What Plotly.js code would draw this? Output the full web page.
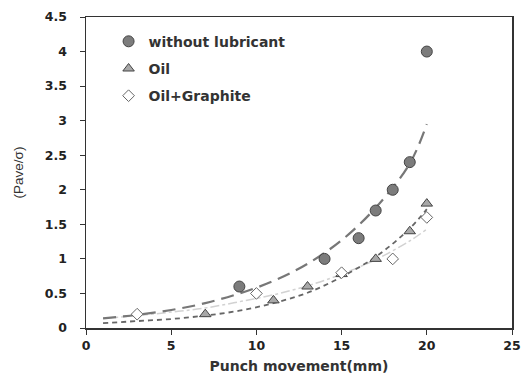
<!DOCTYPE html>
<html><head><meta charset="utf-8">
<script src="https://cdn.plot.ly/plotly-3.0.1.min.js"></script>
<style>html,body{margin:0;padding:0;background:#fff}#c{width:522px;height:379px}</style>
</head><body><div id="c"></div>
<script>
// Measured points
const xDry = [9, 14, 16, 17, 18, 19, 20];
const yDry = [0.6, 1.0, 1.3, 1.7, 2.0, 2.4, 4.0];
const xOil = [7, 11, 13, 15, 17, 19, 20];
const yOil = [0.2, 0.4, 0.6, 0.78, 1.0, 1.4, 1.8];
const xGra = [3, 10, 15, 18, 20];
const yGra = [0.2, 0.5, 0.8, 1.0, 1.6];
// Trend lines
const xTrend = [1, 3, 5, 7, 9, 11, 13, 15, 17, 19, 20];
const yTrendDry = [0.14, 0.19, 0.26, 0.36, 0.50, 0.68, 0.93, 1.27, 1.74, 2.38, 2.95];
const yTrendOil = [0.07, 0.10, 0.13, 0.18, 0.25, 0.36, 0.51, 0.74, 1.03, 1.44, 1.72];
const yTrendGra = [0.14, 0.18, 0.23, 0.29, 0.38, 0.48, 0.61, 0.78, 0.99, 1.26, 1.43];
const names = ['without lubricant', 'Oil', 'Oil+Graphite'];
const xTicks = [0, 5, 10, 15, 20, 25];
const yTicks = [0, 0.5, 1, 1.5, 2, 2.5, 3, 3.5, 4, 4.5];
const yTickText = ['0', '0.5', '1', '1.5', '2', '2.5', '3', '3.5', '4', '4.5'];

const FB = 'DejaVu Sans, Verdana, sans-serif';
const FN = 'Liberation Sans, Arial, sans-serif';
const traces = [
  {x: xTrend, y: yTrendGra, mode: 'lines', line: {color: '#d2d2d2', width: 1.5, dash: 'dashdot', shape: 'spline'}, showlegend: false, hoverinfo: 'skip'},
  {x: xTrend, y: yTrendDry, mode: 'lines', line: {color: '#777', width: 2.2, dash: '13px,7px', shape: 'spline'}, showlegend: false, hoverinfo: 'skip'},
  {x: xTrend, y: yTrendOil, mode: 'lines', line: {color: '#666', width: 1.8, dash: '5px,4px', shape: 'spline'}, showlegend: false, hoverinfo: 'skip'},
  {x: xDry, y: yDry, name: names[0], mode: 'markers', legendgroup: 'a',
   marker: {symbol: 'circle', size: 11, color: '#7c7c7c', line: {color: '#444', width: 1}}},
  {x: xOil, y: yOil, name: names[1], mode: 'markers', legendgroup: 'b',
   marker: {symbol: 'triangle-up', size: 10, color: '#a8a8a8', line: {color: '#444', width: 1}}},
  {x: xGra, y: yGra, name: names[2], mode: 'markers', legendgroup: 'c',
   marker: {symbol: 'diamond', size: 9, color: '#ffffff', line: {color: '#666', width: 1}}}
];
const layout = {
  width: 522, height: 379,
  margin: {l: 86, r: 10, t: 17, b: 51},
  paper_bgcolor: '#fff', plot_bgcolor: '#fff',
  font: {family: FB, color: '#222'},
  showlegend: true,
  legend: {x: 0.053, y: 0.972, xanchor: 'left', yanchor: 'top', bgcolor: 'rgba(0,0,0,0)',
    font: {family: FB, size: 14, color: '#333', weight: 'bold'}, traceorder: 'grouped', tracegroupgap: 6, itemwidth: 30},
  xaxis: {range: [0, 25], tickvals: xTicks, ticks: 'outside', ticklen: 5, tickcolor: '#333',
    showgrid: false, zeroline: false, showline: true, mirror: true, linecolor: '#333', linewidth: 1.5,
    tickfont: {family: FB, size: 12.5, color: '#222', weight: 'bold'},
    title: {text: 'Punch movement(mm)', font: {family: FB, size: 14, color: '#333', weight: 'bold'}, standoff: 9}},
  yaxis: {range: [0, 4.5], tickvals: yTicks, ticktext: yTickText,
    ticks: 'outside', ticklen: 5, tickcolor: '#333', ticklabelstandoff: 10,
    showgrid: false, zeroline: false, showline: true, mirror: true, linecolor: '#333', linewidth: 1.5,
    tickfont: {family: FB, size: 12.5, color: '#222', weight: 'bold'},
    title: {text: '(Pave/σ)', font: {family: FN, size: 13.5, color: '#333'}, standoff: 18}}
};
Plotly.newPlot('c', traces, layout, {displayModeBar: false, staticPlot: true});
</script></body></html>
